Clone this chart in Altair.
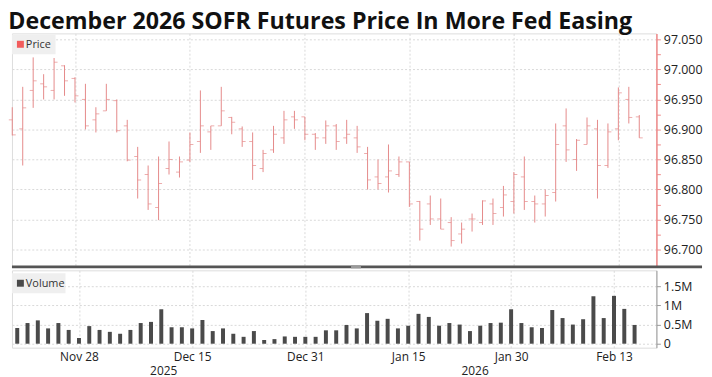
import altair as alt
import pandas as pd

# ---------------- data ----------------
dates = [
    "2025-11-19", "2025-11-20", "2025-11-21", "2025-11-24", "2025-11-25", "2025-11-26", "2025-11-28",
    "2025-12-01", "2025-12-02", "2025-12-03", "2025-12-04", "2025-12-05",
    "2025-12-08", "2025-12-09", "2025-12-10", "2025-12-11", "2025-12-12",
    "2025-12-15", "2025-12-16", "2025-12-17", "2025-12-18", "2025-12-19",
    "2025-12-22", "2025-12-23", "2025-12-24", "2025-12-26",
    "2025-12-29", "2025-12-30", "2025-12-31",
    "2026-01-02", "2026-01-05", "2026-01-06", "2026-01-07", "2026-01-08", "2026-01-09",
    "2026-01-12", "2026-01-13", "2026-01-14", "2026-01-15", "2026-01-16",
    "2026-01-20", "2026-01-21", "2026-01-22", "2026-01-23",
    "2026-01-26", "2026-01-27", "2026-01-28", "2026-01-29", "2026-01-30",
    "2026-02-02", "2026-02-03", "2026-02-04", "2026-02-05", "2026-02-06",
    "2026-02-09", "2026-02-10", "2026-02-11", "2026-02-12", "2026-02-13",
    "2026-02-17", "2026-02-18",
]

open_ = [96.916, 96.901, 96.965, 96.976, 96.965, 97.006, 96.985, 96.950, 96.916, 96.931,
         96.948, 96.906, 96.855, 96.825, 96.770, 96.835, 96.829, 96.849, 96.880, 96.896,
         96.906, 96.920, 96.901, 96.880, 96.835, 96.866, 96.886, 96.921, 96.921, 96.892,
         96.886, 96.906, 96.886, 96.886, 96.860, 96.821, 96.821, 96.825, 96.846, 96.780,
         96.776, 96.751, 96.745, 96.726, 96.751, 96.745, 96.776, 96.770, 96.780, 96.821,
         96.780, 96.776, 96.795, 96.906, 96.850, 96.875, 96.901, 96.840, 96.901, 96.950,
         96.921]
high = [96.937, 96.971, 97.020, 96.992, 97.019, 97.007, 96.987, 96.976, 96.937, 96.976,
        96.950, 96.916, 96.871, 96.840, 96.855, 96.880, 96.855, 96.895, 96.965, 96.906,
        96.971, 96.921, 96.905, 96.895, 96.866, 96.906, 96.931, 96.931, 96.921, 96.894,
        96.915, 96.909, 96.916, 96.906, 96.871, 96.850, 96.875, 96.855, 96.846, 96.781,
        96.790, 96.785, 96.754, 96.745, 96.760, 96.782, 96.785, 96.806, 96.829, 96.855,
        96.790, 96.800, 96.910, 96.935, 96.884, 96.920, 96.916, 96.910, 96.970, 96.971,
        96.924]
low = [96.890, 96.840, 96.936, 96.950, 96.950, 96.956, 96.945, 96.900, 96.895, 96.931,
       96.895, 96.847, 96.785, 96.766, 96.749, 96.825, 96.820, 96.846, 96.861, 96.866,
       96.906, 96.892, 96.871, 96.816, 96.829, 96.861, 96.876, 96.901, 96.882, 96.866,
       96.876, 96.866, 96.876, 96.861, 96.800, 96.800, 96.795, 96.821, 96.771, 96.715,
       96.741, 96.734, 96.705, 96.710, 96.730, 96.741, 96.741, 96.755, 96.760, 96.766,
       96.745, 96.755, 96.780, 96.846, 96.831, 96.875, 96.785, 96.836, 96.882, 96.910,
       96.886]
close = [96.891, 96.936, 96.981, 96.971, 97.012, 96.981, 96.956, 96.906, 96.926, 96.950,
         96.898, 96.849, 96.816, 96.776, 96.810, 96.850, 96.846, 96.875, 96.906, 96.906,
         96.931, 96.912, 96.880, 96.840, 96.860, 96.892, 96.916, 96.916, 96.892, 96.886,
         96.906, 96.880, 96.892, 96.871, 96.816, 96.810, 96.831, 96.846, 96.776, 96.734,
         96.751, 96.734, 96.715, 96.734, 96.751, 96.781, 96.760, 96.791, 96.825, 96.780,
         96.776, 96.790, 96.875, 96.866, 96.882, 96.906, 96.840, 96.896, 96.961, 96.920,
         96.886]
volume_m = [0.41, 0.54, 0.61, 0.40, 0.54, 0.36, 0.15, 0.46, 0.36, 0.31,
            0.26, 0.36, 0.54, 0.57, 0.90, 0.43, 0.43, 0.40, 0.62, 0.33,
            0.40, 0.26, 0.18, 0.33, 0.10, 0.12, 0.19, 0.18, 0.18, 0.18,
            0.35, 0.35, 0.49, 0.40, 0.80, 0.60, 0.65, 0.40, 0.47, 0.78,
            0.70, 0.47, 0.54, 0.50, 0.33, 0.47, 0.54, 0.55, 0.90, 0.54,
            0.43, 0.41, 0.88, 0.67, 0.50, 0.64, 1.24, 0.67, 1.25, 0.91,
            0.49]

tick_dates = ["2025-11-28", "2025-12-15", "2025-12-31", "2026-01-15", "2026-01-30", "2026-02-13"]
price_ticks = [96.700, 96.725, 96.750, 96.775, 96.800, 96.825, 96.850, 96.875,
               96.900, 96.925, 96.950, 96.975, 97.000, 97.025, 97.050]
volume_ticks = [0, 500000, 1000000, 1500000]
title_text = "December 2026 SOFR Futures Price In More Fed Easing"

# ---------------- layout constants ----------------
W = 650
H_PRICE = 235
H_VOL = 78
X_DOM = [-0.03, 61.64]
Y_PRICE_DOM = [96.672, 97.060]
Y_VOL_DOM = [-103600, 1917000]
RED = "#e58a8a"
FONT = "Open Sans"

# ---------------- derived tables ----------------
idx = list(range(len(dates)))
df = pd.DataFrame({
    "i": idx, "date": dates, "open": open_, "high": high, "low": low,
    "close": close, "volume": [v * 1e6 for v in volume_m],
})
labels = [pd.Timestamp(d).strftime("%b ") + str(pd.Timestamp(d).day) for d in dates]
label_arr = "[" + ",".join("'" + s + "'" for s in labels) + "]"
tick_idx = [dates.index(d) for d in tick_dates]

# year labels centred over the visible span of each year
years = sorted(set(d[:4] for d in dates))
year_rows = []
for y in years:
    ii = [k for k, d in enumerate(dates) if d[:4] == y]
    lo = max(X_DOM[0], ii[0] - 0.5)
    hi = min(X_DOM[1], ii[-1] + 0.5)
    year_rows.append({"year": y, "mid": (lo + hi) / 2})
years_df = pd.DataFrame(year_rows)

xscale = alt.Scale(domain=X_DOM, nice=False, zero=False)
MAJOR = "round(datum.value*1000) % 50 == 0"

x_price_axis = alt.Axis(values=tick_idx, labels=False, ticks=False, domain=False,
                        grid=True, gridColor="#d9d9d9", gridDash=[2, 2], title=None)
x_vol_axis = alt.Axis(values=tick_idx, labelExpr=label_arr + "[datum.value]", ticks=False,
                      domain=False, grid=True, gridColor="#d9d9d9", gridDash=[2, 2],
                      labelFontSize=12, labelFont=FONT, labelColor="#222", labelPadding=4,
                      title=None)

price_axis = alt.Axis(orient="right", values=price_ticks, format=".3f",
                      labelExpr=MAJOR + " ? datum.label : ''",
                      labelOverlap=False,
                      gridOpacity={"condition": {"test": MAJOR, "value": 1}, "value": 0},
                      grid=True, gridColor="#d9d9d9", gridDash=[2, 2],
                      domainColor="#f08a8a", domainWidth=1.5, tickColor="#f08a8a",
                      tickSize=4, labelFontSize=12.5, labelFont=FONT, labelColor="#222",
                      labelPadding=3, title=None)
price_scale = alt.Scale(domain=Y_PRICE_DOM, nice=False, zero=False)

base = alt.Chart(df)
wicks = base.mark_rule(color=RED, strokeWidth=1).encode(
    x=alt.X("i:Q", scale=xscale, axis=x_price_axis),
    y=alt.Y("low:Q", scale=price_scale, axis=price_axis), y2="high:Q")
opens = base.mark_tick(orient="horizontal", size=3.5, thickness=1, xOffset=-1.75, color=RED).encode(
    x=alt.X("i:Q", scale=xscale, axis=x_price_axis),
    y=alt.Y("open:Q", scale=price_scale, axis=price_axis))
closes = base.mark_tick(orient="horizontal", size=3.5, thickness=1, xOffset=1.75, color=RED).encode(
    x=alt.X("i:Q", scale=xscale, axis=x_price_axis),
    y=alt.Y("close:Q", scale=price_scale, axis=price_axis))

leg_df = pd.DataFrame({"name": ["Price"]})
price_leg_box = alt.Chart(leg_df).mark_rect(color="#efefef").encode(
    x=alt.value(0), x2=alt.value(44), y=alt.value(1), y2=alt.value(21))
price_leg_sq = alt.Chart(leg_df).mark_rect(color="#f25c5c").encode(
    x=alt.value(5), x2=alt.value(12), y=alt.value(7.5), y2=alt.value(14.5))
price_leg_txt = alt.Chart(leg_df).mark_text(align="left", baseline="middle", fontSize=11,
                                            font=FONT, color="#333").encode(
    x=alt.value(14), y=alt.value(11.5), text="name:N")
separator = alt.Chart(leg_df).mark_rule(color="#555555", strokeWidth=3).encode(
    x=alt.value(0), x2=alt.value(W + 46), y=alt.value(H_PRICE + 0.5))
handle = alt.Chart(leg_df).mark_rule(color="#9a9a9a", strokeWidth=3).encode(
    x=alt.value(342), x2=alt.value(352), y=alt.value(H_PRICE + 0.5))

price = alt.layer(wicks, opens, closes, price_leg_box, price_leg_sq, price_leg_txt,
                  separator, handle).properties(width=W, height=H_PRICE)

vol_bars = base.mark_bar(size=4, color="#4a4a4a").encode(
    x=alt.X("i:Q", scale=xscale, axis=x_vol_axis),
    y=alt.Y("volume:Q", scale=alt.Scale(domain=Y_VOL_DOM, nice=False, zero=False),
            axis=alt.Axis(orient="right", values=volume_ticks,
                          labelExpr="datum.value == 0 ? '0' : (datum.value/1e6) + 'M'",
                          labelOverlap=False,
                          grid=True, gridColor="#d9d9d9", gridDash=[2, 2],
                          domainColor="#9a9a9a", tickColor="#9a9a9a", tickSize=4,
                          labelFontSize=12.5, labelFont=FONT, labelColor="#222",
                          labelPadding=3, title=None)),
    y2=alt.datum(0))
vleg_df = pd.DataFrame({"name": ["Volume"]})
vol_leg_box = alt.Chart(vleg_df).mark_rect(color="#efefef").encode(
    x=alt.value(0), x2=alt.value(54), y=alt.value(3), y2=alt.value(23))
vol_leg_sq = alt.Chart(vleg_df).mark_rect(color="#4a4a4a").encode(
    x=alt.value(5), x2=alt.value(12), y=alt.value(9.5), y2=alt.value(16.5))
vol_leg_txt = alt.Chart(vleg_df).mark_text(align="left", baseline="middle", fontSize=11,
                                           font=FONT, color="#333").encode(
    x=alt.value(14), y=alt.value(13.5), text="name:N")
year_txt = alt.Chart(years_df).mark_text(baseline="middle", fontSize=12, font=FONT,
                                         color="#222").encode(
    x=alt.X("mid:Q", scale=xscale), y=alt.value(H_VOL + 24), text="year:N")

volume = alt.layer(vol_bars, vol_leg_box, vol_leg_sq, vol_leg_txt, year_txt).properties(
    width=W, height=H_VOL)

chart = alt.vconcat(price, volume, spacing=0).properties(
    padding=0,
    title=alt.TitleParams(title_text, anchor="start", fontSize=23.4, font=FONT,
                          fontWeight="bold", color="#111", offset=-1),
).configure_view(strokeWidth=0).configure_axis(labelOverlap=False).configure(background="white")

chart.save("out.html", embed_options={"renderer": "svg", "actions": False})
